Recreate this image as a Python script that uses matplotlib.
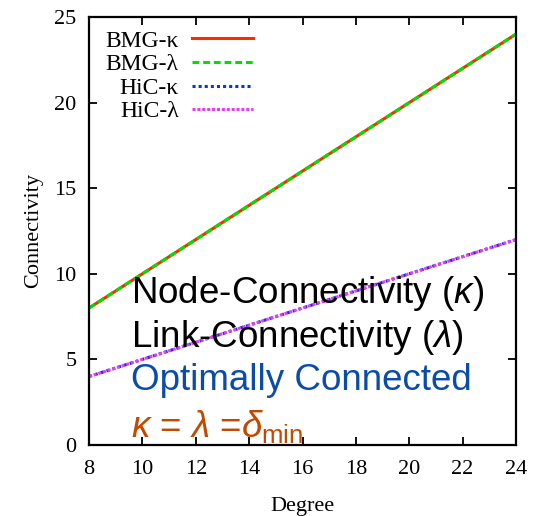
import matplotlib
matplotlib.use("Agg")
import matplotlib.pyplot as plt

# degree vs connectivity for the two topologies
degree = [8, 10, 12, 14, 16, 18, 20, 22, 24]
bmg_kappa = [8, 10, 12, 14, 16, 18, 20, 22, 24]
bmg_lambda = [8, 10, 12, 14, 16, 18, 20, 22, 24]
hic_kappa = [4, 5, 6, 7, 8, 9, 10, 11, 12]
hic_lambda = [4, 5, 6, 7, 8, 9, 10, 11, 12]

x_ticks = [8, 10, 12, 14, 16, 18, 20, 22, 24]
y_ticks = [0, 5, 10, 15, 20, 25]

plt.rcParams['mathtext.fontset'] = 'custom'
plt.rcParams['mathtext.rm'] = 'Liberation Sans'
plt.rcParams['mathtext.it'] = 'Liberation Sans:italic'

fig = plt.figure(figsize=(5.45, 5.16), dpi=100)
ax = fig.add_axes([89 / 545, 71 / 516, 427 / 545, 428 / 516])

serif = 'Liberation Serif'

ax.plot(degree, bmg_kappa, color='#ff2a00', lw=2.2, label='BMG-κ')
ax.plot(degree, bmg_lambda, color='#00e000', lw=2.2, ls=(0, (2.2, 1.3)), label='BMG-λ')
ax.plot(degree, hic_kappa, color='#1030e0', lw=2.2, ls=(0, (1, 1)), label='HiC-κ')
ax.plot(degree, hic_lambda, color='#e040f0', lw=2.2, ls=(0, (1, 0.6)), label='HiC-λ')

ax.set_xlim(8, 24)
ax.set_ylim(0, 25)
ax.set_xticks(x_ticks)
ax.set_yticks(y_ticks)
ax.tick_params(direction='in', top=True, right=True, length=6, width=1.3,
               labelsize=16, pad=9)
ax.tick_params(axis='x', pad=11)
for lab in ax.get_xticklabels() + ax.get_yticklabels():
    lab.set_family(serif)
for s in ax.spines.values():
    s.set_linewidth(1.6)

ax.set_xlabel('Degree', family=serif, fontsize=16, labelpad=13)
ax.set_ylabel('Connectivity', family=serif, fontsize=16, labelpad=8)

leg = ax.legend(loc='upper right', bbox_to_anchor=(253 / 545, 1 - 30 / 516),
                bbox_transform=fig.transFigure, frameon=False, markerfirst=False,
                prop={'family': serif, 'size': 17}, handlelength=2.6,
                handletextpad=0.55, labelspacing=0.09, borderpad=0, borderaxespad=0)

# annotation block
sans = 'Liberation Sans'
fig.text(131 / 545, 1 - 303 / 516, r'Node-Connectivity ($\it{\kappa}$)', family=sans,
         fontsize=26.5, color='black', va='baseline')
fig.text(131 / 545, 1 - 347 / 516, r'Link-Connectivity ($\it{\lambda}$)', family=sans,
         fontsize=26.5, color='black', va='baseline')
fig.text(131 / 545, 1 - 390 / 516, 'Optimally Connected', family=sans,
         fontsize=26.5, color='#0a4ca8', va='baseline')
fig.text(131 / 545, 1 - 437 / 516, r'$\it{\kappa}$ = $\it{\lambda}$ =$\it{\delta}_{\rm min}$',
         family=sans, fontsize=26.5, color='#c04a00', va='baseline')

fig.savefig('out.png', dpi=100)
